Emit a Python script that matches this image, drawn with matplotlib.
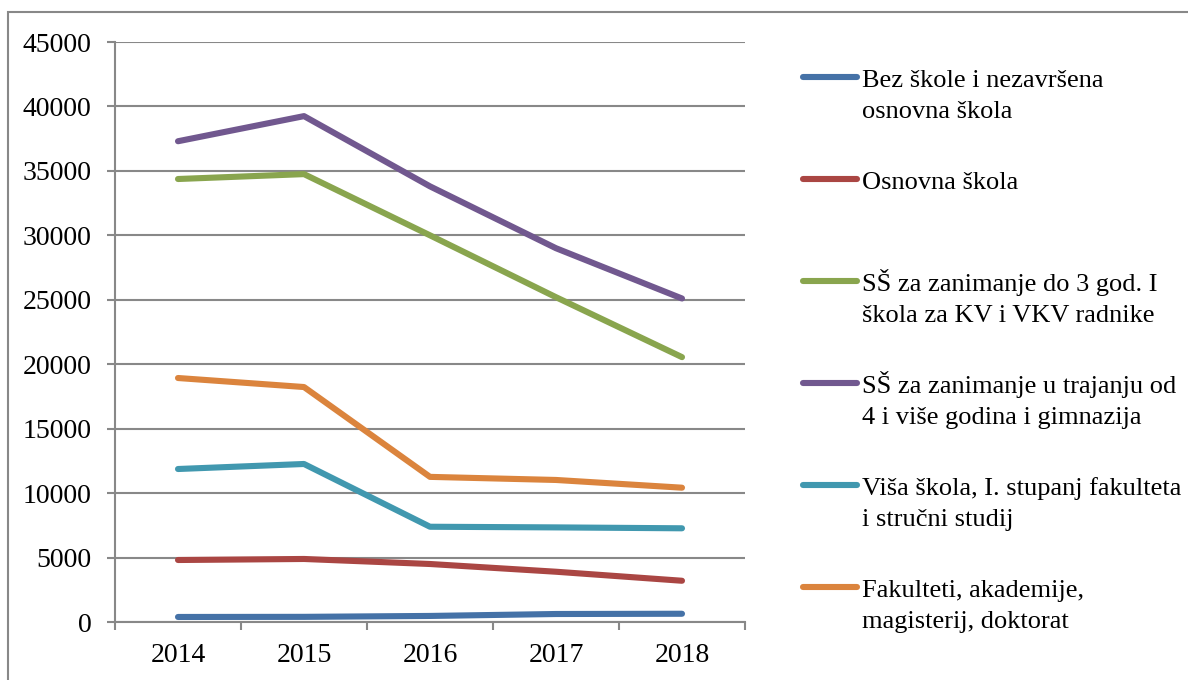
import numpy as np
import matplotlib
matplotlib.use('Agg')
import matplotlib.pyplot as plt
from matplotlib.lines import Line2D
from matplotlib.patches import Rectangle

plt.rcParams['font.family'] = ['Liberation Serif', 'DejaVu Serif']

years = ['2014', '2015', '2016', '2017', '2018']

bez_skole = [390, 400, 470, 620, 640]
osnovna = [4810, 4890, 4500, 3900, 3200]
ss_3god = [34370, 34750, 30000, 25200, 20550]
ss_4god = [37300, 39250, 33800, 29000, 25100]
visa = [11870, 12260, 7390, 7340, 7270]
fakulteti = [18930, 18230, 11260, 11020, 10420]

series_names = ['Bez škole i nezavršena\nosnovna škola',
                'Osnovna škola',
                'SŠ za zanimanje do 3 god. I\nškola za KV i VKV radnike',
                'SŠ za zanimanje u trajanju od\n4 i više godina i gimnazija',
                'Viša škola, I. stupanj fakulteta\ni stručni studij',
                'Fakulteti, akademije,\nmagisterij, doktorat']
series_values = [bez_skole, osnovna, ss_3god, ss_4god, visa, fakulteti]
series_colors = ['#4572A7', '#AA4643', '#89A54E', '#71588F', '#4198AF', '#DB843D']

W, H = 1188, 680
fs = 20
fig = plt.figure(figsize=(W / 100, H / 100), dpi=100)
ax = fig.add_axes([115 / W, 1 - 622 / H, 630 / W, 580 / H])

grid_col = '#888888'
x = np.arange(len(years))
for vals, col in zip(series_values, series_colors):
    ax.plot(x, vals, color=col, linewidth=4.4, solid_capstyle='round',
            solid_joinstyle='round', zorder=3)

ax.set_xlim(-0.5, len(years) - 0.5)
ax.set_ylim(0, 45000)
ax.set_yticks(np.arange(0, 45001, 5000))
ax.yaxis.grid(True, color=grid_col, linewidth=1.5)
ax.set_axisbelow(True)

ax.set_xticks(np.arange(-0.5, len(years), 1.0))
ax.set_xticklabels([])
ax.set_xticks(x, minor=True)
ax.set_xticklabels(years, minor=True)
ax.tick_params(axis='x', which='major', length=6, width=1.5, color=grid_col, direction='out')
ax.tick_params(axis='x', which='minor', length=0, pad=15, labelsize=fs)
ax.tick_params(axis='y', length=6, width=1.5, color=grid_col, direction='out', pad=11,
               labelsize=fs)

for s in ['top', 'right']:
    ax.spines[s].set_visible(False)
for s in ['left', 'bottom']:
    ax.spines[s].set_color(grid_col)
    ax.spines[s].set_linewidth(1.5)

# legend drawn by hand, Excel style
y0 = 77
step = 102
line_gap = 31
for i, (name, col) in enumerate(zip(series_names, series_colors)):
    yc = y0 + i * step
    fig.add_artist(Line2D([803 / W, 857 / W], [1 - yc / H, 1 - yc / H], color=col,
                          linewidth=4.4, solid_capstyle='round', transform=fig.transFigure))
    for k, part in enumerate(name.split('\n')):
        fig.text(862 / W, 1 - (yc + 10 + k * line_gap) / H, part, fontsize=19,
                 va='baseline', ha='left')

# outer chart frame
fig.add_artist(Rectangle((8 / W, -0.2), 1.2, 1.2 - 12 / H, fill=False,
                         edgecolor=grid_col, linewidth=1.5, transform=fig.transFigure))

fig.savefig('out.png', dpi=100)
